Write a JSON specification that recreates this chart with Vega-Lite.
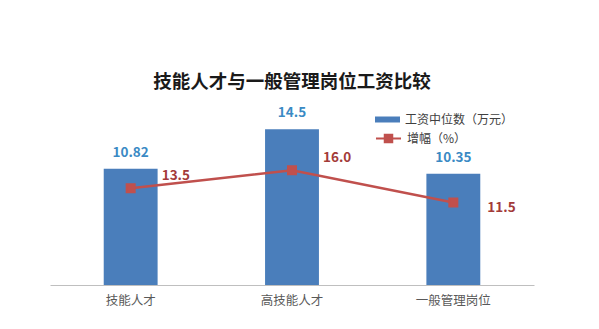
{
  "$schema": "https://vega.github.io/schema/vega-lite/v6.json",
  "autosize": {"type": "none"},
  "width": 484,
  "height": 172,
  "padding": {"left": 50, "top": 113, "right": 65, "bottom": 44},
  "background": "white",
  "config": {
    "font": "Noto Sans CJK SC",
    "view": {"stroke": null}
  },
  "title": {
    "text": "技能人才与一般管理岗位工资比较",
    "fontSize": 18.5,
    "fontWeight": "bold",
    "color": "#1a1a1a",
    "anchor": "middle",
    "offset": 15
  },
  "data": {
    "values": [
      {"cat": "技能人才", "wage": 10.82, "rate": 13.5},
      {"cat": "高技能人才", "wage": 14.5, "rate": 16.0},
      {"cat": "一般管理岗位", "wage": 10.35, "rate": 11.5}
    ]
  },
  "encoding": {
    "x": {
      "field": "cat",
      "type": "nominal",
      "sort": null,
      "scale": {"paddingInner": 0.666, "paddingOuter": 0.333},
      "axis": {
        "title": null,
        "labelAngle": 0,
        "labelFontSize": 12.5,
        "labelColor": "#595959",
        "labelPadding": 9,
        "ticks": false,
        "domainColor": "#bfbfbf",
        "domainWidth": 1
      }
    }
  },
  "layer": [
    {
      "layer": [
        {
          "mark": {"type": "bar"},
          "encoding": {
            "y": {"field": "wage", "type": "quantitative", "scale": {"domain": [0, 16]}, "axis": null},
            "fill": {
              "datum": "工资中位数（万元）",
              "type": "nominal",
              "scale": {"range": ["#4a7ebb"]},
              "legend": {
                "title": null,
                "orient": "none",
                "legendX": 329,
                "legendY": -2,
                "symbolType": "M-1.5,-0.36H1.5V0.36H-1.5Z",
                "symbolSize": 278,
                "symbolStrokeWidth": 0,
                "labelFontSize": 12,
                "labelColor": "#404040",
                "labelOffset": 9
              }
            }
          }
        },
        {
          "mark": {"type": "text", "dy": -16, "fontSize": 13.5, "fontWeight": "bold", "color": "#3a8ac4"},
          "encoding": {
            "y": {"field": "wage", "type": "quantitative", "scale": {"domain": [0, 16]}, "axis": null},
            "text": {"field": "wage", "type": "quantitative", "format": ".2~f"}
          }
        }
      ]
    },
    {
      "layer": [
        {
          "mark": {"type": "line", "strokeWidth": 2.5, "color": "#c0504d", "point": {"shape": "square", "size": 64, "filled": true, "color": "#c0504d"}},
          "encoding": {
            "y": {"field": "rate", "type": "quantitative", "scale": {"domain": [0, 24]}, "axis": null},
            "stroke": {
              "datum": "增幅（%）",
              "type": "nominal",
              "scale": {"range": ["#c0504d"]},
              "legend": {
                "title": null,
                "orient": "none",
                "legendX": 329,
                "legendY": 16,
                "symbolType": "M-1.5,0H1.5M-0.45,-0.45H0.45V0.45H-0.45Z",
                "symbolSize": 278,
                "symbolFillColor": "#c0504d",
                "symbolStrokeWidth": 2,
                "labelFontSize": 12,
                "labelColor": "#404040",
                "labelOffset": 9
              }
            }
          }
        },
        {
          "transform": [{"filter": "datum.cat !== '一般管理岗位'"}],
          "mark": {"type": "text", "align": "left", "dx": 31, "dy": -12, "fontSize": 13.5, "fontWeight": "bold", "color": "#a33b39"},
          "encoding": {
            "y": {"field": "rate", "type": "quantitative", "scale": {"domain": [0, 24]}, "axis": null},
            "text": {"field": "rate", "type": "quantitative", "format": ".1f"}
          }
        },
        {
          "transform": [{"filter": "datum.cat === '一般管理岗位'"}],
          "mark": {"type": "text", "align": "left", "dx": 34, "dy": 5, "fontSize": 13.5, "fontWeight": "bold", "color": "#a33b39"},
          "encoding": {
            "y": {"field": "rate", "type": "quantitative", "scale": {"domain": [0, 24]}, "axis": null},
            "text": {"field": "rate", "type": "quantitative", "format": ".1f"}
          }
        }
      ]
    }
  ],
  "resolve": {"scale": {"y": "independent"}}
}
